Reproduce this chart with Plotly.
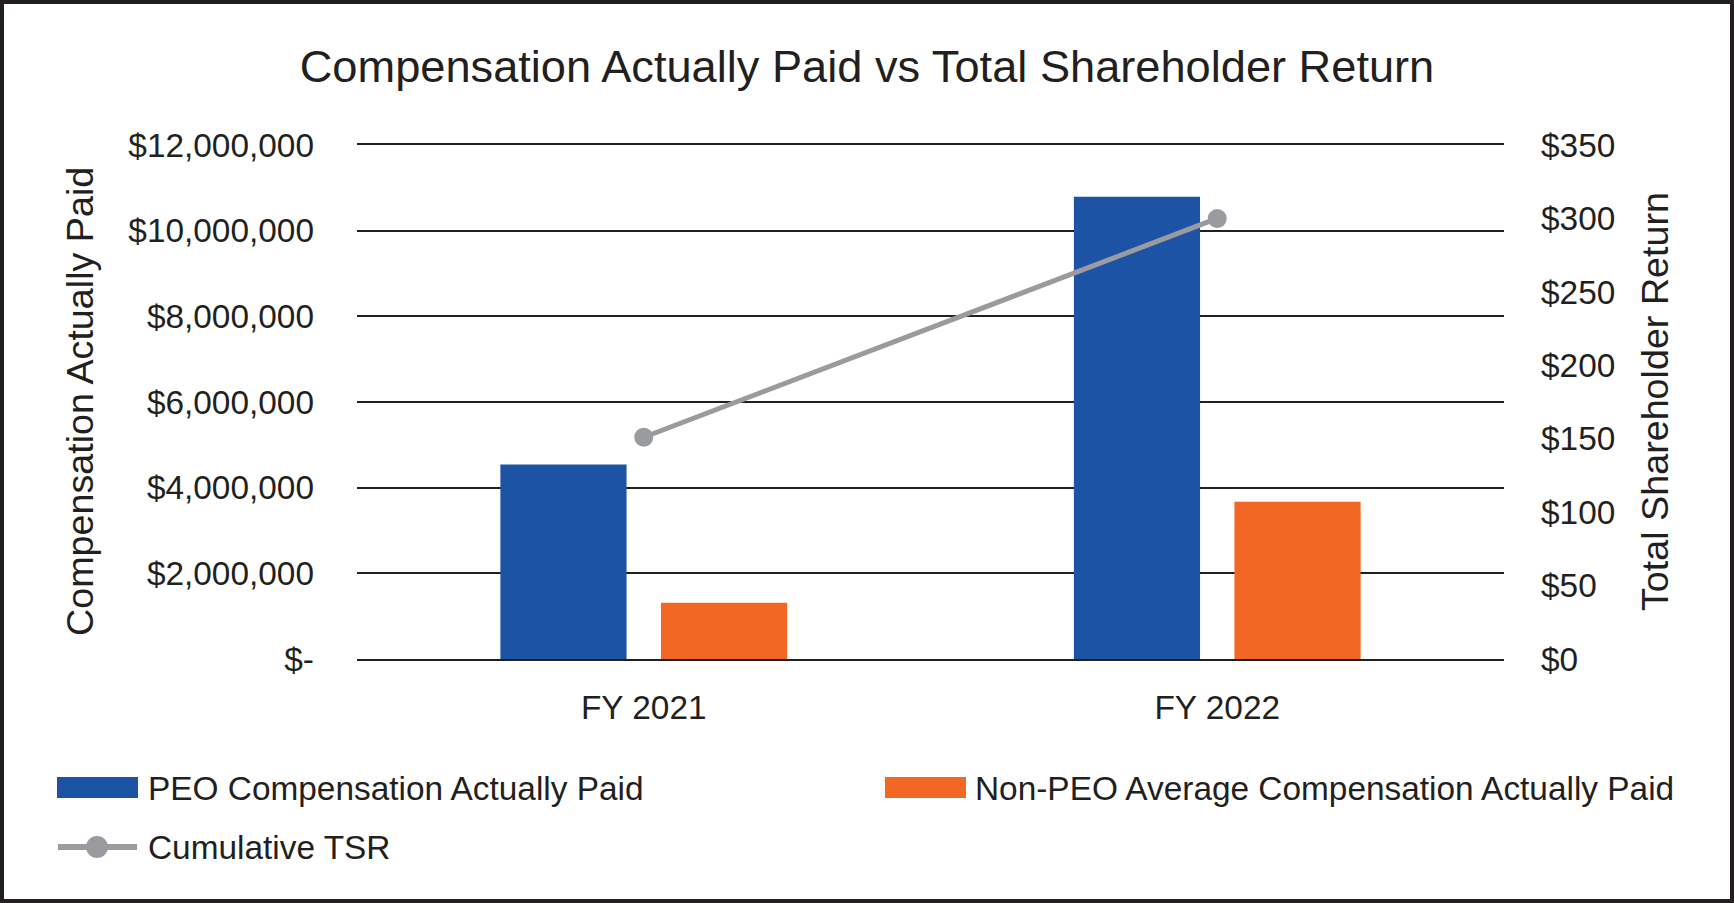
import plotly.graph_objects as go

categories = ["FY 2021", "FY 2022"]
peo_cap = [4540000, 10790000]
non_peo_cap = [1316000, 3670000]
tsr = [151, 300]

left_tickvals = [0, 2000000, 4000000, 6000000, 8000000, 10000000, 12000000]
left_ticktext = ["$-", "$2,000,000", "$4,000,000", "$6,000,000", "$8,000,000", "$10,000,000", "$12,000,000"]
right_tickvals = [0, 50, 100, 150, 200, 250, 300, 350]
right_ticktext = ["$0", "$50", "$100", "$150", "$200", "$250", "$300", "$350"]

W, H = 1734, 903
L, R, T, B = 357, 1504, 145, 659
PW, PH = R - L, B - T

def px(x):
    return (x - L) / PW

def py(y):
    return (B - y) / PH

TXT = "#231f20"
BLUE = "#1d53a5"
ORANGE = "#f26723"
GREY = "#9a9b9f"
FONT = "Liberation Sans, Arial, sans-serif"
FS = 33.4

fig = go.Figure()
fig.add_trace(go.Bar(x=categories, y=peo_cap, name="PEO Compensation Actually Paid",
                     marker=dict(color=BLUE, line=dict(width=0)), width=0.22, offset=-0.25,
                     showlegend=False))
fig.add_trace(go.Bar(x=categories, y=non_peo_cap, name="Non-PEO Average Compensation Actually Paid",
                     marker=dict(color=ORANGE, line=dict(width=0)), width=0.22, offset=0.03,
                     showlegend=False))
fig.add_trace(go.Scatter(x=categories, y=tsr, name="Cumulative TSR", yaxis="y2",
                         mode="lines+markers", line=dict(color=GREY, width=5),
                         marker=dict(color=GREY, size=19), showlegend=False))

shapes = []
# outer frame
shapes.append(dict(type="rect", xref="paper", yref="paper",
                   x0=px(2), x1=px(W - 2), y0=py(2), y1=py(H - 2),
                   line=dict(color=TXT, width=4), fillcolor="rgba(0,0,0,0)", layer="above"))
# legend symbols
shapes.append(dict(type="rect", xref="paper", yref="paper",
                   x0=px(57), x1=px(138), y0=py(777), y1=py(798),
                   line=dict(width=0), fillcolor=BLUE))
shapes.append(dict(type="rect", xref="paper", yref="paper",
                   x0=px(885), x1=px(966), y0=py(777), y1=py(798),
                   line=dict(width=0), fillcolor=ORANGE))
shapes.append(dict(type="line", xref="paper", yref="paper",
                   x0=px(58), x1=px(137), y0=py(847), y1=py(847),
                   line=dict(color=GREY, width=6)))
shapes.append(dict(type="circle", xref="paper", yref="paper",
                   x0=px(86), x1=px(108), y0=py(836), y1=py(858),
                   line=dict(width=0), fillcolor=GREY))

annotations = [
    dict(text="PEO Compensation Actually Paid", x=px(146), y=py(788), xref="paper", yref="paper",
         xanchor="left", yanchor="middle", showarrow=False, font=dict(size=FS, color=TXT, family=FONT)),
    dict(text="Non-PEO Average Compensation Actually Paid", x=px(973), y=py(788), xref="paper", yref="paper",
         xanchor="left", yanchor="middle", showarrow=False, font=dict(size=FS, color=TXT, family=FONT)),
    dict(text="Cumulative TSR", x=px(146), y=py(847), xref="paper", yref="paper",
         xanchor="left", yanchor="middle", showarrow=False, font=dict(size=FS, color=TXT, family=FONT)),
    dict(text="Compensation Actually Paid", x=px(80), y=0.5, xref="paper", yref="paper",
         xanchor="center", yanchor="middle", textangle=-90, showarrow=False,
         font=dict(size=37.7, color=TXT, family=FONT)),
    dict(text="Total Shareholder Return", x=px(1655), y=0.5, xref="paper", yref="paper",
         xanchor="center", yanchor="middle", textangle=-90, showarrow=False,
         font=dict(size=37.7, color=TXT, family=FONT)),
]

fig.update_layout(
    width=W, height=H,
    margin=dict(l=L, r=W - R, t=T, b=H - B, autoexpand=False),
    paper_bgcolor="white", plot_bgcolor="white",
    barmode="overlay",
    showlegend=False,
    title=dict(text="Compensation Actually Paid vs Total Shareholder Return",
               x=0.5, xref="container", xanchor="center",
               y=1 - 66 / H, yref="container", yanchor="middle",
               font=dict(size=45.2, color=TXT, family=FONT)),
    font=dict(family=FONT, color=TXT, size=FS),
    xaxis=dict(type="category", range=[-0.5, 1.5], showgrid=False, zeroline=False,
               showline=True, mirror=True, linecolor=TXT, linewidth=1.6,
               ticks="", tickfont=dict(size=FS, color=TXT, family=FONT), ticklabelstandoff=18),
    yaxis=dict(range=[0, 12000000], tickvals=left_tickvals, ticktext=left_ticktext,
               showgrid=True, gridcolor=TXT, gridwidth=1.6, zeroline=False, showline=False,
               ticks="", tickfont=dict(size=FS, color=TXT, family=FONT), ticklabelstandoff=42),
    yaxis2=dict(range=[0, 350], tickvals=right_tickvals, ticktext=right_ticktext,
                overlaying="y", side="right", showgrid=False, zeroline=False, showline=False,
                ticks="", tickfont=dict(size=FS, color=TXT, family=FONT), ticklabelstandoff=36),
    shapes=shapes,
    annotations=annotations,
)

fig.write_html("out.html")
